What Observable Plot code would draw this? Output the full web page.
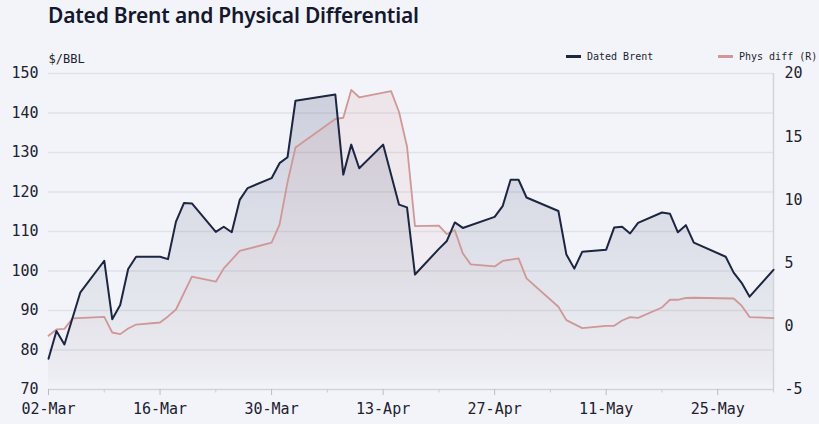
<!DOCTYPE html>
<html><head><meta charset="utf-8">
<script src="https://cdn.jsdelivr.net/npm/d3@7"></script>
<script src="https://cdn.jsdelivr.net/npm/@observablehq/plot@0.6"></script>
<style>
html,body{margin:0;padding:0;background:#f3f4f9;}
#wrap{position:relative;width:819px;height:424px;overflow:hidden;background:#f3f4f9;}
#title{position:absolute;left:48px;top:1px;font:600 21px "Noto Sans",sans-serif;color:#14182e;white-space:nowrap;letter-spacing:-0.2px;}
#chart{position:absolute;left:0;top:40px;}
.leg{position:absolute;top:51px;font:10px "DejaVu Sans Mono",monospace;color:#1b1f33;display:flex;align-items:center;white-space:nowrap;}
.sw{display:inline-block;width:15px;height:2.5px;margin-right:6px;}
</style></head>
<body><div id="wrap"><div id="title"></div><div id="legend"></div><div id="chart"></div></div>
<script>
const titleText = "Dated Brent and Physical Differential";
const unitLabel = "$/BBL";
const seriesNames = ["Dated Brent", "Phys diff (R)"];
const seriesColors = ["#1c2541", "#cf9896"];

const brentDates = ["2020-03-02","2020-03-03","2020-03-04","2020-03-06","2020-03-09","2020-03-10","2020-03-11","2020-03-12","2020-03-13",
  "2020-03-16","2020-03-17","2020-03-18","2020-03-19","2020-03-20","2020-03-23","2020-03-24","2020-03-25","2020-03-26","2020-03-27",
  "2020-03-30","2020-03-31","2020-04-01","2020-04-02","2020-04-07","2020-04-08","2020-04-09","2020-04-10","2020-04-13","2020-04-15",
  "2020-04-16","2020-04-17","2020-04-20","2020-04-21","2020-04-22","2020-04-23","2020-04-27","2020-04-28","2020-04-29","2020-04-30",
  "2020-05-01","2020-05-05","2020-05-06","2020-05-07","2020-05-08","2020-05-11","2020-05-12","2020-05-13","2020-05-14","2020-05-15",
  "2020-05-18","2020-05-19","2020-05-20","2020-05-21","2020-05-22","2020-05-26","2020-05-27","2020-05-28","2020-05-29","2020-06-01"];
const brentValues = [77.8,84.8,81.4,94.6,102.6,87.8,91.4,100.5,103.6,
  103.6,103.0,112.5,117.2,117.1,109.9,111.2,109.8,118.0,121.0,
  123.5,127.3,128.8,143.1,144.7,124.4,132.0,126.0,132.0,116.8,
  116.1,99.1,105.6,107.6,112.3,110.9,113.7,116.4,123.1,123.1,
  118.6,115.2,104.2,100.6,104.9,105.4,111.0,111.2,109.5,112.2,
  114.8,114.5,109.8,111.6,107.2,103.6,99.6,97.0,93.5,100.3];

const diffDates = ["2020-03-02","2020-03-03","2020-03-04","2020-03-05","2020-03-09","2020-03-10","2020-03-11","2020-03-12","2020-03-13",
  "2020-03-16","2020-03-17","2020-03-18","2020-03-20","2020-03-23","2020-03-24","2020-03-26","2020-03-30","2020-03-31","2020-04-01",
  "2020-04-02","2020-04-07","2020-04-08","2020-04-09","2020-04-10","2020-04-14","2020-04-15","2020-04-16","2020-04-17","2020-04-20",
  "2020-04-21","2020-04-22","2020-04-23","2020-04-24","2020-04-27","2020-04-28","2020-04-30","2020-05-01","2020-05-05","2020-05-06",
  "2020-05-08","2020-05-11","2020-05-12","2020-05-13","2020-05-14","2020-05-15","2020-05-18","2020-05-19","2020-05-20","2020-05-21",
  "2020-05-22","2020-05-27","2020-05-28","2020-05-29","2020-06-01"];
const diffValues = [-0.75,-0.25,-0.2,0.62,0.75,-0.49,-0.62,-0.17,0.14,
  0.30,0.78,1.33,3.93,3.53,4.58,5.96,6.62,8.05,11.4,
  14.15,16.4,16.5,18.7,18.12,18.6,16.95,14.23,7.92,7.97,
  7.3,7.6,5.77,4.9,4.74,5.17,5.38,3.79,1.55,0.49,
  -0.14,0.04,0.04,0.46,0.73,0.67,1.49,2.1,2.1,2.24,
  2.26,2.2,1.63,0.73,0.65];

const leftTicks = [70,80,90,100,110,120,130,140,150];
const rightTicks = [-5,0,5,10,15,20];
const xTickDates = ["2020-03-02","2020-03-16","2020-03-30","2020-04-13","2020-04-27","2020-05-11","2020-05-25"];

const parse = d3.utcParse("%Y-%m-%d");
const brent = brentDates.map((d, i) => ({date: parse(d), value: brentValues[i]}));
const diff = diffDates.map((d, i) => ({date: parse(d), value: diffValues[i]}));
const leftMin = d3.min(leftTicks), leftMax = d3.max(leftTicks);
const rightMin = d3.min(rightTicks), rightMax = d3.max(rightTicks);
const k = (leftMax - leftMin) / (rightMax - rightMin);
const toLeft = v => leftMin + (v - rightMin) * k;
const fromLeft = y => rightMin + (y - leftMin) / k;
const xStart = brent[0].date, xEnd = brent[brent.length - 1].date;
const xMajor = xTickDates.map(parse);
const majorSet = new Set(xMajor.map(d => +d));
const xMinor = d3.utcMonday.range(xStart, d3.utcDay.offset(xEnd, 1)).filter(d => !majorSet.has(+d));

document.getElementById("title").textContent = titleText;
const legend = document.getElementById("legend");
[566, 718].forEach((left, i) => {
  const el = document.createElement("div");
  el.className = "leg"; el.style.left = left + "px";
  el.innerHTML = `<span class="sw" style="background:${seriesColors[i]}"></span>`;
  el.appendChild(document.createTextNode(seriesNames[i]));
  legend.appendChild(el);
});

const axisColor = "#d2d4db";
const chart = Plot.plot({
  width: 819, height: 384,
  marginLeft: 48, marginRight: 46, marginTop: 33, marginBottom: 35,
  style: {background: "transparent", fontFamily: "'DejaVu Sans Mono', monospace", fontSize: "15px", color: "#1d2130"},
  x: {type: "utc", domain: [xStart, xEnd]},
  y: {domain: [leftMin, leftMax]},
  marks: [
    Plot.gridY(leftTicks.slice(1), {stroke: "#e1e2e8", strokeOpacity: 1, strokeWidth: 1.5}),
    Plot.areaY(brent, {x: "date", y1: leftMin, y2: "value", fill: "url(#gBrent)"}),
    Plot.areaY(diff, {x: "date", y1: leftMin, y2: d => toLeft(d.value), fill: "url(#gDiff)"}),
    Plot.ruleY([leftMin], {stroke: axisColor, strokeWidth: 1.5}),
    Plot.ruleX([xEnd], {stroke: axisColor, strokeWidth: 1.5}),
    Plot.line(diff, {x: "date", y: d => toLeft(d.value), stroke: seriesColors[1], strokeWidth: 1.8}),
    Plot.line(brent, {x: "date", y: "value", stroke: seriesColors[0], strokeWidth: 2}),
    Plot.axisY(leftTicks, {anchor: "left", tickSize: 0, tickPadding: 10, label: null}),
    Plot.axisY(rightTicks.map(toLeft), {anchor: "right", tickSize: 0, tickPadding: 11, label: null,
      tickFormat: d => String(Math.round(fromLeft(d)))}),
    Plot.axisX(xMajor, {tickSize: 6, tickPadding: 8, label: null, stroke: "#b9bcc5", tickFormat: d3.utcFormat("%d-%b")}),
    Plot.axisX(xMinor, {tickSize: 3.5, tickPadding: 0, label: null, stroke: "#c9ccd3", tickFormat: () => ""}),
    Plot.text([unitLabel], {frameAnchor: "top-left", textAnchor: "start", lineAnchor: "bottom", dy: -11, fontSize: 12})
  ]
});

const ys = chart.scale("y");
const yTop = ys.apply(leftMax), yBot = ys.apply(leftMin);
const defs = d3.select(chart).insert("defs", ":first-child");
function grad(id, color, o1, o2) {
  const g = defs.append("linearGradient").attr("id", id).attr("gradientUnits", "userSpaceOnUse")
    .attr("x1", 0).attr("x2", 0).attr("y1", yTop).attr("y2", yBot);
  g.append("stop").attr("offset", 0).attr("stop-color", color).attr("stop-opacity", o1);
  g.append("stop").attr("offset", 0.96).attr("stop-color", color).attr("stop-opacity", o2);
  g.append("stop").attr("offset", 1).attr("stop-color", color).attr("stop-opacity", 0);
}
grad("gBrent", "#2a3863", 0.2, 0.03);
grad("gDiff", "#cf8f90", 0.16, 0.02);
document.getElementById("chart").appendChild(chart);
</script>
</body></html>
